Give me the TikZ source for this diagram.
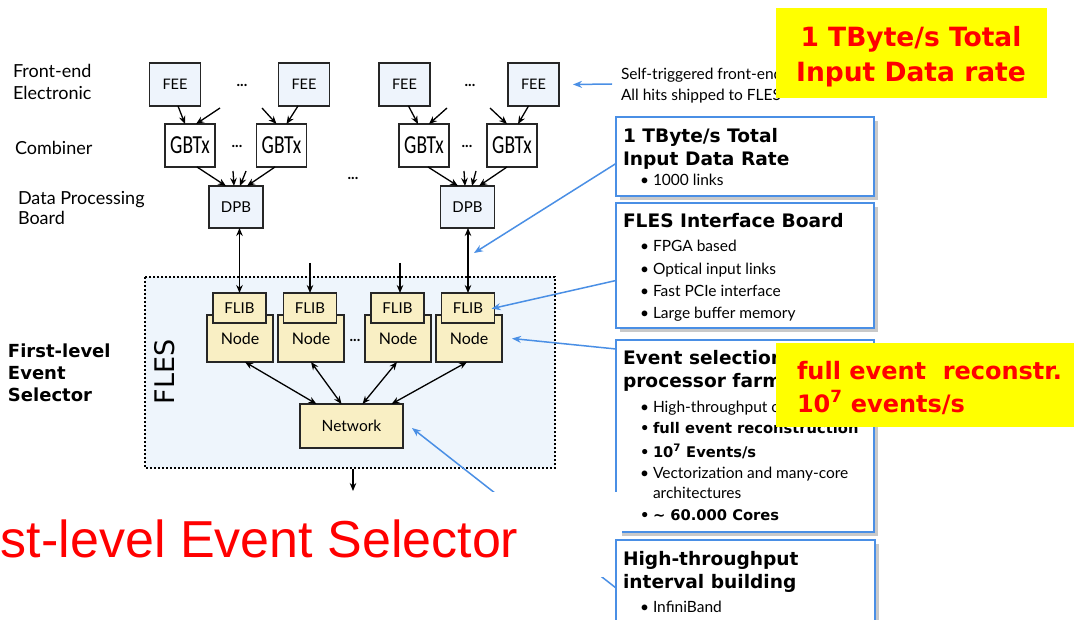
\documentclass[tikz,border=0pt]{standalone}
\usepackage{fontspec}
\usepackage{graphicx}
\setmainfont{Lato}
\newfontfamily\dvs{DejaVu Sans}
\newfontfamily\libsans{Liberation Sans}
\newfontfamily\carl{Carlito}
\usetikzlibrary{arrows.meta,calc,shadows}
\definecolor{boxblue}{HTML}{EEF4FC}
\definecolor{flesbg}{HTML}{EEF5FC}
\definecolor{wheat}{HTML}{F9EFC4}
\definecolor{lineblue}{HTML}{4A8FE5}
\definecolor{yel}{HTML}{FFFF00}
\definecolor{redtxt}{HTML}{FF0000}
\definecolor{edge}{HTML}{262626}
\newcommand\bulletline[4][bul]{\node[#1] (#2d) at (640,#3) {\textbullet}; \node[#1] (#2) at (653,#3) {#4};}
\begin{document}
\begin{tikzpicture}[x=1pt,y=-1pt,
  every node/.style={inner sep=0pt, outer sep=0pt},
  blk/.style={draw=edge, line width=1.7pt, fill=boxblue, minimum width=51pt, minimum height=43pt, font=\fontsize{14.5}{16}\selectfont},
  gbt/.style={blk, fill=white, minimum width=50pt, minimum height=43pt, font=\carl\fontsize{26}{28}\selectfont},
  dpbbox/.style={blk, minimum width=54pt, minimum height=42pt, font=\fontsize{15}{16}\selectfont},
  flib/.style={draw=edge, line width=1.7pt, fill=wheat, minimum width=53pt, minimum height=30pt, font=\fontsize{15}{16}\selectfont},
  nodebox/.style={draw=edge, line width=1.7pt, fill=wheat, minimum width=66pt, minimum height=47pt, font=\fontsize{16}{18}\selectfont},
  netbox/.style={draw=edge, line width=1.7pt, fill=wheat, minimum width=103pt, minimum height=44pt, font=\fontsize{15.5}{18}\selectfont},
  lbl/.style={anchor=base west, font=\fontsize{18}{20}\selectfont},
  blbl/.style={anchor=base west, font=\dvs\bfseries\fontsize{18}{20}\selectfont},
  dots/.style={font=\bfseries\fontsize{15}{16}\selectfont},
  arr/.style={draw=black, line width=1.3pt, -{Stealth[length=8pt,width=6.5pt]}},
  darr/.style={draw=black, line width=1.3pt, {Stealth[length=8pt,width=6.5pt]}-{Stealth[length=8pt,width=6.5pt]}},
  barr/.style={draw=lineblue, line width=1.5pt, -{Stealth[length=9pt,width=7pt]}},
  rbox/.style={draw=lineblue, line width=2pt, fill=white, minimum width=258pt, drop shadow={shadow xshift=4pt, shadow yshift=-4pt, fill=black!35, opacity=.6}},
  ttl/.style={anchor=base west, font=\dvs\bfseries\fontsize{18.6}{20}\selectfont},
  bul/.style={anchor=base west, font=\fontsize{15.5}{17}\selectfont},
  bbul/.style={anchor=base west, font=\dvs\bfseries\fontsize{14.7}{17}\selectfont},
  yelbox/.style={fill=yel, draw=none},
  ytxt/.style={text=redtxt, font=\dvs\bfseries\fontsize{26.5}{30}\selectfont}
]
\useasboundingbox (0,0) rectangle (1074,620);
\fill[white] (0,0) rectangle (1074,620);

% FLES background
\draw[fill=flesbg, line width=1.3pt, dash pattern=on 2pt off 2pt] (145,277) rectangle (555,468);
\node[font=\dvs\fontsize{27}{30}\selectfont, rotate=90] (fleslbl) at (165,372) {FLES};

% left labels
\node[lbl] (l1) at (13,78) {Front-end};
\node[lbl] (l2) at (13,100) {Electronic};
\node[lbl] (l3) at (15,155) {Combiner};
\node[lbl] (l4) at (18,205) {Data Processing};
\node[lbl] (l5) at (18,225) {Board};
\node[blbl] (l6) at (8,358) {First-level};
\node[blbl] (l7) at (8,380) {Event};
\node[blbl] (l8) at (8,402) {Selector};

% FEE
\node[blk] (FEE1) at (175,84.5) {FEE};
\node[blk] (FEE2) at (304,84.5) {FEE};
\node[blk] (FEE3) at (404.5,84.5) {FEE};
\node[blk] (FEE4) at (533.5,84.5) {FEE};
\node[dots] (d1) at (242,85) {...};
\node[dots] (d2) at (470,85) {...};

% GBTx
\node[gbt] (G1) at (190,145.5) {\scalebox{0.75}[1]{GBTx}};
\node[gbt] (G2) at (281.5,145.5) {\scalebox{0.75}[1]{GBTx}};
\node[gbt] (G3) at (424,145.5) {\scalebox{0.75}[1]{GBTx}};
\node[gbt] (G4) at (512,145.5) {\scalebox{0.75}[1]{GBTx}};
\node[dots] (d3) at (237,146) {...};
\node[dots] (d4) at (467,146) {...};

% DPB
\node[dpbbox] (DPB1) at (236,207) {DPB};
\node[dpbbox] (DPB2) at (467.5,207) {DPB};
\node[dots] (d5) at (353,178) {...};

% FEE -> GBTx
\coordinate (f1) at (220,108);
\coordinate (f2) at (262,108);
\coordinate (f3) at (447,108);
\coordinate (f4) at (490,108);
\draw[arr] ([xshift=3pt]FEE1.south) -- ([xshift=-5pt]G1.north);
\draw[arr] (f1) -- ([xshift=6pt]G1.north);
\draw[arr] (f2) -- ([xshift=-5pt]G2.north);
\draw[arr] ([xshift=-6pt]FEE2.south) -- ([xshift=5pt]G2.north);
\draw[arr] ([xshift=4pt]FEE3.south) -- ([xshift=-6pt]G3.north);
\draw[arr] (f3) -- ([xshift=5pt]G3.north);
\draw[arr] (f4) -- ([xshift=-5pt]G4.north);
\draw[arr] ([xshift=-5pt]FEE4.south) -- ([xshift=6pt]G4.north);

% GBTx -> DPB
\coordinate (g1) at (233,171);
\coordinate (g2) at (246,171);
\coordinate (g3) at (464,171);
\coordinate (g4) at (476,171);
\draw[arr] ([xshift=7pt]G1.south) -- ([xshift=-10pt]DPB1.north);
\draw[arr] (g1) -- ([xshift=-2pt]DPB1.north);
\draw[arr] (g2) -- ([xshift=4pt]DPB1.north);
\draw[arr] ([xshift=-6.5pt]G2.south) -- ([xshift=11pt]DPB1.north);
\draw[arr] ([xshift=4pt]G3.south) -- ([xshift=-9.5pt]DPB2.north);
\draw[arr] (g3) -- ([xshift=-2.5pt]DPB2.north);
\draw[arr] (g4) -- ([xshift=4.5pt]DPB2.north);
\draw[arr] ([xshift=-5pt]G4.south) -- ([xshift=11.5pt]DPB2.north);

% Nodes and FLIBs
\node[nodebox] (N1) at (240,338.5) {\raisebox{-2pt}{Node}};
\node[nodebox] (N2) at (311,338.5) {\raisebox{-2pt}{Node}};
\node[nodebox] (N3) at (398,338.5) {\raisebox{-2pt}{Node}};
\node[nodebox] (N4) at (469,338.5) {\raisebox{-2pt}{Node}};
\node[flib] (F1) at (239.5,308) {FLIB};
\node[flib] (F2) at (310,308) {FLIB};
\node[flib] (F3) at (397.5,308) {FLIB};
\node[flib] (F4) at (468,308) {FLIB};
\node[dots] (d6) at (355,340) {...};

\coordinate (h2) at (310,263);
\coordinate (h3) at (400,263);
\draw[darr] (DPB1.south -| F1.north) -- (F1.north);
\draw[arr] (h2) -- (h2 |- F2.north);
\draw[arr] (h3) -- (h3 |- F3.north);
\draw[darr] (DPB2.south -| F4.north) -- (F4.north);

% Network
\node[netbox] (NET) at (351.5,426) {Network};
\draw[darr] ([xshift=5pt]N1.south) -- ([xshift=-35pt]NET.north);
\draw[darr] (N2.south) -- ([xshift=-10pt]NET.north);
\draw[darr] ([xshift=-1pt]N3.south) -- ([xshift=11pt]NET.north);
\draw[darr] ([xshift=-2pt]N4.south) -- ([xshift=40pt]NET.north);

\coordinate (o1) at (353,469);
\coordinate (o2) at (353,491);
\draw[arr] (o1) -- (o2);

% right boxes 1-3
\node[rbox, minimum height=79pt] (rb1) at (745,156.5) {};
\node[ttl] (t1a) at (623,143) {1 TByte/s Total};
\node[ttl] (t1b) at (623,166) {Input Data Rate};
\bulletline{t1c}{186}{1000 links}

\node[rbox, minimum height=125pt] (rb2) at (745,265.5) {};
\node[ttl] (t2a) at (623,228) {FLES Interface Board};
\bulletline{t2b}{252}{FPGA based}
\bulletline{t2c}{275}{Optical input links}
\bulletline{t2d}{297}{Fast PCIe interface}
\bulletline{t2e}{319}{Large buffer memory}

\node[rbox, minimum height=192pt] (rb3) at (745,436) {};
\node[ttl] (t3a) at (623,365) {Event selection};
\node[ttl] (t3b) at (623,388) {processor farm};
\bulletline{t3c}{412}{High-throughput c}
\bulletline[bbul]{t3d}{433}{full event reconstruction}
\bulletline[bbul]{t3e}{457}{10\textsuperscript{7} Events/s}
\bulletline{t3f}{478}{Vectorization and many-core}
\node[bul] (t3g) at (653,498) {architectures};
\bulletline[bbul]{t3h}{520}{\textasciitilde{} 60.000 Cores}

% start of the box-4 pointer
\coordinate (rb4w) at (616,588);

% blue arrows
\coordinate (p1) at (474,253);
\draw[barr] ([yshift=-7pt]rb1.west) -- (p1);
\draw[barr, shorten >=-3pt] ([yshift=-15pt]rb2.west) -- (F4.east);
\draw[barr] ([yshift=87pt]rb3.west) -- ([xshift=10pt]N4.east);
\draw[barr] (rb4w) -- ([xshift=9pt,yshift=-2pt]NET.east);

% self-triggered note
\node[bul, anchor=base west] (s1) at (621,80) {Self-triggered front-end};
\node[bul, anchor=base west] (s2) at (621,101) {All hits shipped to FLES};
\coordinate (sa) at (612,84);
\draw[barr] (sa) -- ([xshift=14pt]FEE4.east);

% yellow boxes
\fill[yelbox] (776,8) rectangle (1047,98);
\node[ytxt, anchor=base] (y1) at (911,47) {1 TByte/s Total};
\node[ytxt, anchor=base] (y2) at (911,82) {Input Data rate};
\fill[yelbox] (776,343) rectangle (1074,427);
\node[ytxt, anchor=base west, font=\dvs\bfseries\fontsize{24}{28}\selectfont] (y3) at (797,380) {full event~ reconstr.};
\node[ytxt, anchor=base west, font=\dvs\bfseries\fontsize{24}{28}\selectfont] (y4) at (797,412) {10\textsuperscript{7} events/s};

% white title band and big red text
\fill[white] (0,492) rectangle (622,577);
\node[anchor=base west, text=redtxt, font=\libsans\fontsize{52}{60}\selectfont] (big) at (1,557) {st-level Event Selector};

% box 4
\node[rbox, minimum width=259pt, minimum height=90pt] (rb4) at (745.5,585) {};
\node[ttl] (t4a) at (623,565) {High-throughput};
\node[ttl] (t4b) at (623,588) {interval building};
\bulletline{t4c}{612}{InfiniBand}
\end{tikzpicture}
\end{document}
